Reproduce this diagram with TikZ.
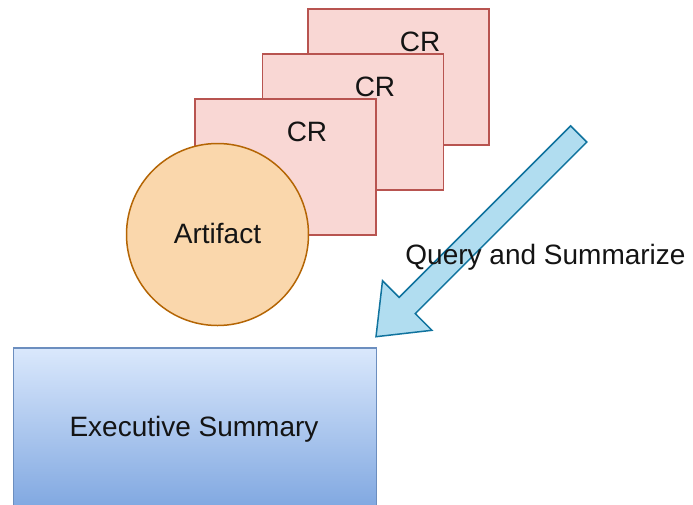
\documentclass[tikz,border=0pt]{standalone}
\usepackage{fontspec}
\setmainfont{Liberation Sans}
\definecolor{crfill}{HTML}{F9D7D4}
\definecolor{crline}{HTML}{B85450}
\definecolor{artfill}{HTML}{FAD7AC}
\definecolor{artline}{HTML}{B46504}
\definecolor{arrfill}{HTML}{B1DDF0}
\definecolor{arrline}{HTML}{10739E}
\definecolor{extop}{HTML}{DAE8FC}
\definecolor{exbot}{HTML}{7EA6E0}
\definecolor{exline}{HTML}{6C8EBF}
\definecolor{txt}{HTML}{141414}
\begin{document}
\begin{tikzpicture}[x=1pt,y=-1pt,
  crbox/.style={draw=crline,fill=crfill,line width=1.5pt,minimum width=181pt,minimum height=136pt,inner sep=0pt},
  lbl/.style={font=\fontsize{28}{30}\selectfont,text=txt,anchor=base,inner sep=0pt},
  artbox/.style={circle,draw=artline,fill=artfill,line width=1.5pt,minimum size=182pt,inner sep=0pt},
  exbox/.style={draw=exline,line width=1.5pt,top color=extop,bottom color=exbot,minimum width=363pt,minimum height=164pt,inner sep=0pt},
  blockarrow/.style={draw=arrline,fill=arrfill,line width=1.5pt,line join=miter}]
\useasboundingbox (0,0) rectangle (693,504);
% CR stack
\node[crbox] (cr3) at (398.5,77) {};
\node[lbl] (cr3t) at (420,51.7) {CR};
\node[crbox] (cr2) at (353,122) {};
\node[lbl] (cr2t) at (375,96.7) {CR};
\node[crbox] (cr1) at (285.5,167) {};
\node[lbl] (cr1t) at (307,141.7) {CR};
% Artifact
\node[artbox] (art) at (217.5,234.5) {};
\node[lbl] (artt) at (217.5,243.3) {Artifact};
% Executive Summary
\node[exbox] (ex) at (195,430) {};
\node[lbl] (ext) at (194,436) {Executive Summary};
% Block arrow
\draw[blockarrow] (570.6,125.9) -- (399.1,297.4) -- (382.5,280.8) -- (376,336.7)
  -- (431.9,330.3) -- (415.3,313.6) -- (586.8,142.1) -- cycle;
\node[lbl] (q) at (545.5,264) {Query and Summarize};
\end{tikzpicture}
\end{document}
